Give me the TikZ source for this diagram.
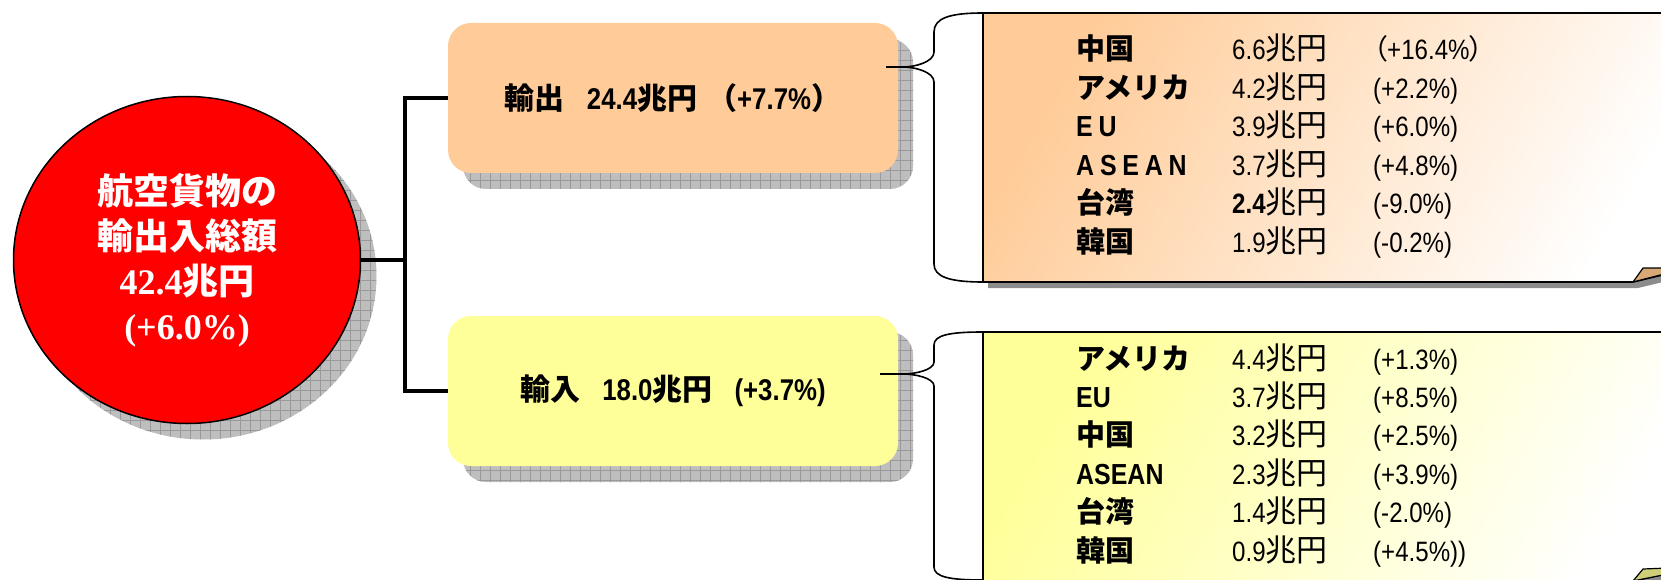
\documentclass[tikz,border=0pt]{standalone}
\usepackage{fontspec}
\setmainfont{Liberation Sans}
\newfontfamily\jpfont{Noto Sans CJK JP}
\newfontfamily\jpnarrow[RawFeature=+palt]{Noto Sans CJK JP}
\newfontfamily\narrowfont[FakeStretch=0.86]{Liberation Sans}
\newfontfamily\spacedfont[FakeStretch=0.86,LetterSpace=20]{Liberation Sans}
\newfontfamily\romanfont{Liberation Serif}
\newcommand\jp[1]{{\jpfont #1}}
\newcommand\jpp[1]{{\jpnarrow #1}}
\newcommand\chouen{{\jpfont\fontsize{31}{34}\selectfont 兆円}}
\usetikzlibrary{positioning,shapes.geometric,shadows,patterns}

\definecolor{totalred}{HTML}{FF0000}
\definecolor{exportpeach}{HTML}{FFCC99}
\definecolor{importyellow}{HTML}{FFFF99}
\definecolor{boxshadow}{HTML}{BEBEBE}
\definecolor{panelshadow}{HTML}{8C8C8C}
\definecolor{curltan}{HTML}{D9A877}
\definecolor{curlolive}{HTML}{CFCF7A}

\pgfdeclarepatternformonly{shadowgrid}{\pgfqpoint{-1pt}{-1pt}}{\pgfqpoint{11pt}{11pt}}{\pgfqpoint{10pt}{10pt}}{
  \pgfsetlinewidth{0.8pt}
  \pgfpathmoveto{\pgfqpoint{0pt}{0pt}}\pgfpathlineto{\pgfqpoint{10pt}{0pt}}
  \pgfpathmoveto{\pgfqpoint{0pt}{0pt}}\pgfpathlineto{\pgfqpoint{0pt}{10pt}}
  \pgfusepath{stroke}}

\begin{document}
\begin{tikzpicture}[
  x=1pt, y=-1pt,
  gridshadow/.style={fill=boxshadow, opacity=1,
    postaction={pattern=shadowgrid, pattern color=black!40}},
  total/.style={ellipse, draw, line width=1.5pt, fill=totalred, text=white,
    minimum width=347pt, minimum height=327pt, inner sep=0pt, align=center,
    font=\fontsize{36}{45}\selectfont\bfseries,
    drop shadow={shadow xshift=16pt, shadow yshift=-16pt, gridshadow}},
  branch/.style={rectangle, rounded corners=23pt, minimum width=450pt,
    minimum height=150pt, inner sep=0pt,
    font=\fontsize{30}{36}\selectfont\narrowfont\bfseries,
    drop shadow={shadow xshift=15pt, shadow yshift=-16pt, gridshadow}},
  trunk/.style={line width=4.5pt},
  feeder/.style={line width=2.6pt},
  brace/.style={line width=1.6pt},
  country/.style={anchor=base west, inner sep=0pt,
    font=\fontsize{29}{34}\selectfont\narrowfont\bfseries},
  amount/.style={anchor=base west, inner sep=0pt,
    font=\fontsize{28}{34}\selectfont\narrowfont}
]
  \useasboundingbox (0,0) rectangle (1661,580);

  % total and the two branches
  \node[total] (total) at (187,260)
    {\jp{航空貨物の}\\\jp{輸出入総額}\\{\romanfont 42.4}\jp{兆円}\\{\romanfont (+6.0\%)}};
  \node[branch, fill=exportpeach] (export) at (673,98)
    {\jp{輸出}\hspace{22pt}24.4\jp{兆円}\hspace{10pt}\jp{（}+7.7\%\jp{）}};
  \node[branch, fill=importyellow] (import) at (673,391)
    {\jp{輸入}\hspace{22pt}18.0\jp{兆円}\hspace{22pt}(+3.7\%)};

  \coordinate (fork) at (405,260);
  \draw[trunk] (total.east) -- (fork);
  \draw[trunk] (export.west) -| (fork) |- (import.west);

  % export list panel
  \fill[panelshadow, shift={(5,6)}] (983,13) -- (1700,13) -- (1700,266) -- (1633,282) -- (983,282) -- cycle;
  \shadedraw[top color=exportpeach, bottom color=white, shading angle=60, line width=1.6pt]
    (983,13) -- (1700,13) -- (1700,266) -- (1633,282) -- (983,282) -- cycle;
  \filldraw[fill=curltan, line width=1.2pt, line join=round]
    (1633,282) -- (1643,268) -- (1668,268) -- (1668,273) -- cycle;

  \coordinate (extip) at (903,67);
  \draw[feeder] (export.east |- extip) ++(-12,0) -- (extip);
  \draw[brace] (983,13) .. controls (950,13) and (934,18) .. (934,32) -- (934,52)
    .. controls (934,62) and (915,67) .. (extip)
    .. controls (915,67) and (934,72) .. (934,82) -- (934,264)
    .. controls (934,277) and (950,282) .. (983,282);

  \foreach \cty/\amt/\pct [count=\i] in {
      {\jp{中国}}/6.6/{\jpp{（}+16.4\%\jpp{）}},
      {\jp{アメリカ}}/4.2/(+2.2\%),
      {{\spacedfont EU}}/3.9/(+6.0\%),
      {{\spacedfont ASEAN}}/3.7/(+4.8\%),
      {\jp{台湾}}/{{\bfseries 2.4}}/(-9.0\%),
      {\jp{韓国}}/1.9/(-0.2\%)} {
    \node[country] (exc\i) at (1076,{60+38.4*(\i-1)}) {\cty};
    \node[amount]  (exv\i) at (1232,{60+38.4*(\i-1)}) {\amt\chouen};
    \node[amount]  (exr\i) at (1373,{60+38.4*(\i-1)}) {\pct};
  }

  % import list panel
  \fill[panelshadow, shift={(5,6)}] (983,332) -- (1700,332) -- (1700,566) -- (1633,581) -- (983,581) -- cycle;
  \shadedraw[top color=importyellow, bottom color=white, shading angle=60, line width=1.6pt]
    (983,332) -- (1700,332) -- (1700,566) -- (1633,581) -- (983,581) -- cycle;
  \filldraw[fill=curlolive, line width=1.2pt, line join=round]
    (1633,581) -- (1643,569) -- (1668,568) -- (1668,574) -- cycle;

  \coordinate (imtip) at (903,374);
  \draw[feeder] (import.east |- imtip) ++(-18,0) -- (imtip);
  \draw[brace] (983,332) .. controls (950,332) and (934,335) .. (934,345) -- (934,362)
    .. controls (934,370) and (915,374) .. (imtip)
    .. controls (915,374) and (934,378) .. (934,386) -- (934,567)
    .. controls (934,577) and (950,580) .. (983,580);

  \foreach \cty/\amt/\pct [count=\i] in {
      {\jp{アメリカ}}/4.4/(+1.3\%),
      EU/3.7/(+8.5\%),
      {\jp{中国}}/3.2/(+2.5\%),
      ASEAN/2.3/(+3.9\%),
      {\jp{台湾}}/1.4/(-2.0\%),
      {\jp{韓国}}/0.9/(+4.5\%))} {
    \node[country] (imc\i) at (1076,{369+38.4*(\i-1)}) {\cty};
    \node[amount]  (imv\i) at (1232,{369+38.4*(\i-1)}) {\amt\chouen};
    \node[amount]  (imr\i) at (1373,{369+38.4*(\i-1)}) {\pct};
  }
\end{tikzpicture}
\end{document}
